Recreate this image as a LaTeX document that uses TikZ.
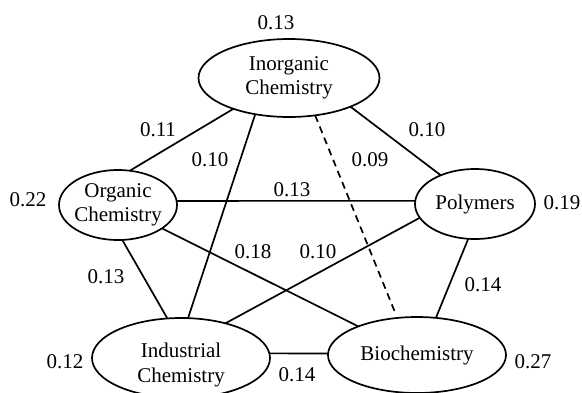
\documentclass[tikz,border=0pt]{standalone}
\usepackage{fontspec}
\setmainfont{Liberation Serif}
\usetikzlibrary{shapes.geometric}
\begin{document}
\begin{tikzpicture}
    [x=1pt, y=-1pt,
 topic/.style ={ellipse, draw=black, line width=1.7pt, inner sep=0pt, outer sep=0pt, align=center, font=\fontsize{21}{24.5}\selectfont},
 link/.style ={draw, line width=1.7pt},
 weight/.style ={inner sep=0pt, align=center, font=\fontsize{21}{24.5}\selectfont}]
        \useasboundingbox (0,0) rectangle (582,392);
        \node[topic, minimum width=181pt, minimum height=78pt] (inorg) at (289,78) {Inorganic\\Chemistry};
        \node[topic, minimum width=118pt, minimum height=70pt, inner xsep=-5pt] (org) at (118,205) {Organic\\Chemistry};
        \node[topic, minimum width=120pt, minimum height=70pt] (poly) at (475,204) {Polymers};
        \node[topic, minimum width=178pt, minimum height=80pt] (indus) at (181,358) {};
        \node[weight] (industext) at (181,365) {Industrial\\Chemistry};
        \node[topic, minimum width=178pt, minimum height=76pt] (bio) at (417,355) {Biochemistry};
        \draw[link] (inorg.209) -- (org.71);
        \draw[link] (inorg.335) -- (poly.140);
        \draw[link, dash pattern=on 7pt off 5pt, shorten >=6pt] (inorg.305) -- (bio.118);
        \draw[link] (inorg.227) -- (indus.80);
        \draw[link] (org.277) -- (indus.109);
        \draw[link] (org.4) -- (poly.177);
        \draw[link] (org.332) -- (bio.154);
        \draw[link] (poly.194) -- (indus.38);
        \draw[link] (poly.259) -- (bio.63);
        \draw[link] (indus.3) -- (bio.179);
        \node[weight] (winorg) at (276,23) {0.13};
        \node[weight] (worg) at (28,200) {0.22};
        \node[weight] (wpoly) at (562,203) {0.19};
        \node[weight] (windus) at (65,362) {0.12};
        \node[weight] (wbio) at (533,362) {0.27};
        \node[weight] (winorgorg) at (158,130) {0.11};
        \node[weight] (winorgindus) at (210,160) {0.10};
        \node[weight] (winorgbio) at (370,160) {0.09};
        \node[weight] (winorgpoly) at (427,130) {0.10};
        \node[weight] (worgpoly) at (292,190) {0.13};
        \node[weight] (worgbio) at (253,252) {0.18};
        \node[weight] (wpolyindus) at (318,252) {0.10};
        \node[weight] (worgindus) at (106,277) {0.13};
        \node[weight] (wpolybio) at (483,285) {0.14};
        \node[weight] (windusbio) at (297,375) {0.14};
    \end{tikzpicture}
\end{document}
